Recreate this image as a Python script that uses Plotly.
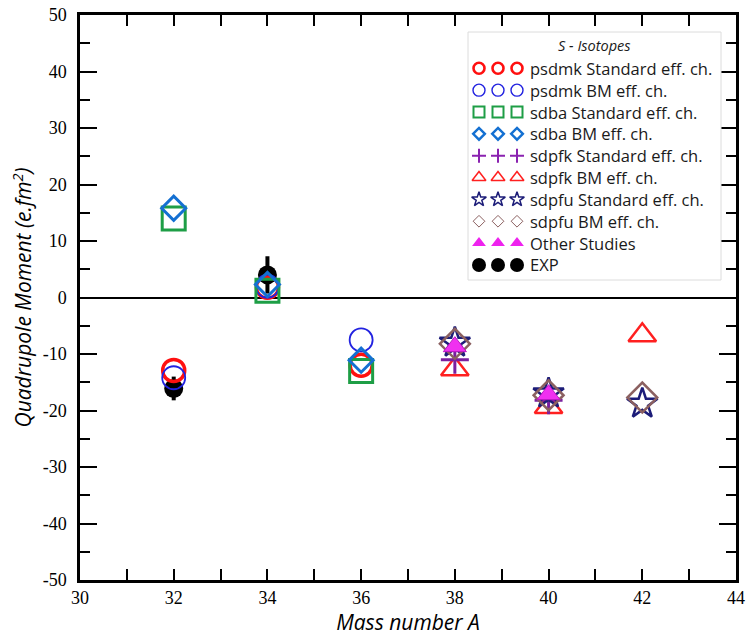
import plotly.graph_objects as go

# ---- data: quadrupole moments (e.fm^2) of S isotopes ----
A_psdmk = [32, 34, 36]
psdmk_std = [-12.9, 1.8, -12.0]
psdmk_bm = [-14.2, 2.0, -7.5]

A_sdba = [32, 34, 36]
sdba_std = [14.0, 1.2, -13.0]
sdba_bm = [15.8, 2.3, -11.1]

A_sdpfk_std = [38, 40]
sdpfk_std = [-11.0, -18.2]
A_sdpfk_bm = [38, 40, 42]
sdpfk_bm = [-12.7, -19.4, -6.7]

A_sdpfu = [38, 40, 42]
sdpfu_std = [-8.0, -17.0, -18.8]
sdpfu_bm = [-8.2, -17.3, -17.7]

A_other = [38, 40]
other_studies = [-8.7, -17.2]

A_exp = [32, 34]
exp_q = [-16.1, 4.0]
exp_err = [2.1, 3.3]

x_ticks = [30, 32, 34, 36, 38, 40, 42, 44]
y_ticks = [-50, -40, -30, -20, -10, 0, 10, 20, 30, 40, 50]

# ---- figure geometry (pixels) ----
W, H = 746, 636
ML, MR, MT, MB = 80, 10, 15, 56
PW, PH = W - ML - MR, H - MT - MB

SANS = "Open Sans"
SERIF = "Liberation Serif"

# series styles: (name, x, y, symbol, size, colour, line width, fill)
series = [
    ("psdmk Standard eff. ch.", A_psdmk, psdmk_std, "circle-open", 22, "#FF1010", 3.5, None),
    ("psdmk BM eff. ch.", A_psdmk, psdmk_bm, "circle-open", 23, "#2222E0", 1.8, None),
    ("sdba Standard eff. ch.", A_sdba, sdba_std, "square-open", 23, "#1E9E46", 3.0, None),
    ("sdba BM eff. ch.", A_sdba, sdba_bm, "diamond-open", 18.5, "#1470D2", 3.0, None),
    ("sdpfk BM eff. ch.", A_sdpfk_bm, sdpfk_bm, "triangle-up-open", 24, "#FF2020", 2.5, None),
    ("sdpfk Standard eff. ch.", A_sdpfk_std, sdpfk_std, "cross-thin-open", 20, "#7A1FA0", 3.0, None),
    ("sdpfu Standard eff. ch.", A_sdpfu, sdpfu_std, "star-open", 23, "#1C1C78", 2.5, None),
    ("sdpfu BM eff. ch.", A_sdpfu, sdpfu_bm, "diamond-open", 23, "#8B6060", 2.5, None),
    ("Other Studies", A_other, other_studies, "triangle-up", 20, "#B818C0", 1.0, "#F030F0"),
]


def marker_style(sym, size, col, lw, fill):
    # open symbols take their stroke colour from marker.color
    if fill:
        return dict(symbol=sym, size=size, color=fill, line=dict(color=col, width=lw))
    return dict(symbol=sym, size=size, color=col, line=dict(color=col, width=lw))


fig = go.Figure()

# experimental values with error bars (drawn first, underneath)
fig.add_trace(go.Scatter(
    x=A_exp, y=exp_q, mode="markers", name="EXP",
    marker=dict(symbol="circle", size=19, color="black"),
    error_y=dict(type="data", array=exp_err, thickness=4, width=0, color="black"),
    showlegend=False,
))

for name, xs, ys, sym, size, col, lw, fill in series:
    fig.add_trace(go.Scatter(x=xs, y=ys, mode="markers", name=name,
                             marker=marker_style(sym, size, col, lw, fill),
                             showlegend=False))

# ---- hand-made legend (three symbols per entry) on a pixel-scaled overlay axis ----
LEG_L, LEG_R, LEG_T, LEG_B = 468, 721, 32, 280
ROW0, ROW_STEP = 68.3, 21.85
SYM_DX = [11, 30, 49]
TEXT_DX = 60

legend_rows = [
    ("psdmk Standard eff. ch.", "circle-open", 11, "#FF1010", 2.6, None),
    ("psdmk BM eff. ch.", "circle-open", 12, "#2222E0", 1.4, None),
    ("sdba Standard eff. ch.", "square-open", 11, "#1E9E46", 2.0, None),
    ("sdba BM eff. ch.", "diamond-open", 9, "#1470D2", 2.4, None),
    ("sdpfk Standard eff. ch.", "cross-thin-open", 10, "#8A22B0", 2.0, None),
    ("sdpfk BM eff. ch.", "triangle-up-open", 12, "#FF2020", 1.5, None),
    ("sdpfu Standard eff. ch.", "star-open", 11, "#1C1C78", 1.5, None),
    ("sdpfu BM eff. ch.", "diamond-open", 9, "#8B6060", 1.0, None),
    ("Other Studies", "triangle-up", 12, "#EE22EE", 0.0, "#EE22EE"),
    ("EXP", "circle", 14, "black", 0.0, "black"),
]


def px_x(x):
    return x - ML


def px_y(y):
    return y - MT


for i, (label, sym, size, col, lw, fill) in enumerate(legend_rows):
    yy = ROW0 + i * ROW_STEP
    fig.add_trace(go.Scatter(
        x=[px_x(LEG_L + d) for d in SYM_DX], y=[px_y(yy)] * 3,
        mode="markers", marker=marker_style(sym, size, col, lw, fill),
        xaxis="x2", yaxis="y2",
        showlegend=False, hoverinfo="skip", cliponaxis=False,
    ))
    fig.add_annotation(
        x=px_x(LEG_L + TEXT_DX), y=px_y(yy), xref="x2", yref="y2",
        text=label, showarrow=False, xanchor="left", yanchor="middle",
        font=dict(family=SANS, size=16.5, color="#1a1a1a"),
    )

fig.add_annotation(
    x=px_x((LEG_L + LEG_R) / 2), y=px_y(45.7), xref="x2", yref="y2",
    text="<i>S - Isotopes</i>", showarrow=False, xanchor="center", yanchor="middle",
    font=dict(family=SANS, size=14.5, color="#1a1a1a"),
)

fig.add_shape(
    type="rect", xref="x2", yref="y2",
    x0=px_x(LEG_L), x1=px_x(LEG_R), y0=px_y(LEG_T), y1=px_y(LEG_B),
    line=dict(color="#DCDCDC", width=1), fillcolor="white", layer="below",
)

# y-axis title placed as a rotated annotation in the left margin
fig.add_annotation(
    x=(22 - ML) / PW, y=0.5, xref="paper", yref="paper",
    text="<i>Quadrupole Moment (e.fm<sup>2</sup>)</i>", textangle=-90,
    showarrow=False, xanchor="center", yanchor="middle",
    font=dict(family=SANS, size=21, color="black"),
)

axis_common = dict(
    showline=True, linewidth=2.5, linecolor="black", mirror="ticks",
    ticks="inside", tickcolor="black", tickwidth=2, showgrid=False,
    automargin=False,
)

fig.update_layout(
    width=W, height=H,
    margin=dict(l=ML, r=MR, t=MT, b=MB),
    plot_bgcolor="rgba(0,0,0,0)", paper_bgcolor="white",
    showlegend=False,
    xaxis=dict(
        range=[30, 44], tickvals=x_ticks, ticktext=[str(v) for v in x_ticks],
        ticklen=11, zeroline=False,
        minor=dict(ticks="inside", dtick=1, tick0=30, ticklen=11, tickwidth=2, tickcolor="black"),
        tickfont=dict(family=SERIF, size=18, color="black"),
        title=dict(text="<i>Mass number A</i>", font=dict(family=SANS, size=21, color="black"), standoff=4),
        **axis_common,
    ),
    yaxis=dict(
        range=[-50, 50], tickvals=y_ticks, ticktext=[str(v) for v in y_ticks],
        ticklen=17,
        zeroline=True, zerolinecolor="black", zerolinewidth=2,
        minor=dict(ticks="inside", dtick=5, tick0=0, ticklen=10, tickwidth=2, tickcolor="black"),
        tickfont=dict(family=SERIF, size=18, color="black"),
        ticklabelstandoff=7,
        **axis_common,
    ),
    xaxis2=dict(domain=[0, 1], range=[0, PW], anchor="y2", visible=False, fixedrange=True),
    yaxis2=dict(domain=[0, 1], range=[PH, 0], anchor="x2", visible=False, fixedrange=True),
)

fig.write_html("out.html")
